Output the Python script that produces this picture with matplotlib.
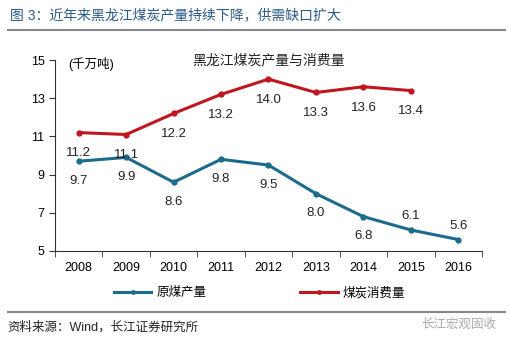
import matplotlib.pyplot as plt
from matplotlib.lines import Line2D

plt.rcParams['font.family'] = ['Liberation Sans', 'Noto Sans CJK SC']

years = ['2008', '2009', '2010', '2011', '2012', '2013', '2014', '2015', '2016']
raw_coal = [9.7, 9.9, 8.6, 9.8, 9.5, 8.0, 6.8, 6.1, 5.6]
consumption = [11.2, 11.1, 12.2, 13.2, 14.0, 13.3, 13.6, 13.4]

blue = '#1d6b8c'
red = '#c0161f'

fig = plt.figure(figsize=(5.09, 3.45), dpi=100)
ax = fig.add_axes([0.108, 0.2725, 0.839, 0.5535])

x_raw = list(range(len(raw_coal)))
x_con = list(range(len(consumption)))
ax.plot(x_raw, raw_coal, color=blue, lw=2.2, marker='o', ms=3.5)
ax.plot(x_con, consumption, color=red, lw=2.2, marker='o', ms=3.5)

# value labels: most below the point, last two blue ones above
for i, v in enumerate(raw_coal):
    dy = 10 if i >= 7 else -14
    ax.annotate(f'{v:.1f}', (i, v), xytext=(0, dy), textcoords='offset points',
                ha='center', va='center', fontsize=9.5, color='#222222')
for i, v in enumerate(consumption):
    ax.annotate(f'{v:.1f}', (i, v), xytext=(0, -15), textcoords='offset points',
                ha='center', va='center', fontsize=9.5, color='#222222')

ax.set_xlim(-0.5, len(years) - 0.5)
ax.set_ylim(5, 15)
ax.set_yticks([5, 7, 9, 11, 13, 15])
ax.set_xticks(range(len(years)))
ax.set_xticklabels(years)
ax.set_xticks([i + 0.5 for i in range(-1, len(years))], minor=True)
ax.tick_params(axis='x', which='major', length=0, pad=8, labelsize=9)
ax.tick_params(axis='x', which='minor', length=4, direction='out', color='#333333')
ax.tick_params(axis='y', length=4, direction='out', labelsize=9, color='#333333')
for s in ['top', 'right']:
    ax.spines[s].set_visible(False)
for s in ['left', 'bottom']:
    ax.spines[s].set_color('#333333')

ax.text(0.03, 0.98, '(千万吨)', transform=ax.transAxes, fontsize=9, va='center')
ax.text(0.5, 1.0, '黑龙江煤炭产量与消费量', transform=ax.transAxes, fontsize=10,
        ha='center', va='center', color='#222222')

handles = [Line2D([0], [0], color=blue, lw=2.2, marker='o', ms=2.5),
           Line2D([0], [0], color=red, lw=2.2, marker='o', ms=2.5)]
fig.legend(handles, ['原煤产量', '煤炭消费量'], loc='center', ncol=2,
           bbox_to_anchor=(0.51, 0.151), frameon=False, fontsize=9,
           columnspacing=7.5, handlelength=3.0, handletextpad=0.4)

fig.text(0.02, 0.955, '图 3：近年来黑龙江煤炭产量持续下降，供需缺口扩大',
         fontsize=10, color='#2a5a86', va='center')
fig.add_artist(Line2D([0.015, 0.992], [0.913, 0.913], color='#888888', lw=1.5))
fig.add_artist(Line2D([0.015, 0.992], [0.096, 0.096], color='#888888', lw=1.5))
fig.text(0.015, 0.05, '资料来源：Wind，长江证券研究所', fontsize=9, va='center', color='#222222')
fig.text(0.975, 0.06, '长江宏观固收', fontsize=9, va='center', ha='right', color='#aaaaaa')

fig.savefig('out.png', dpi=100)
